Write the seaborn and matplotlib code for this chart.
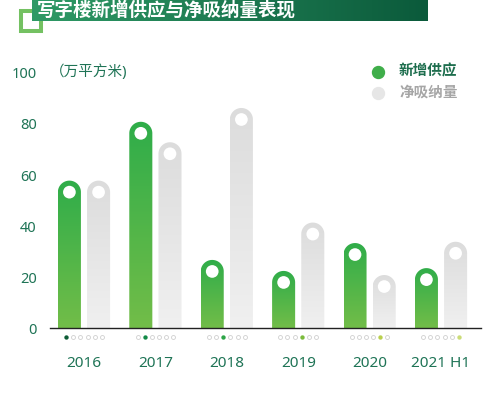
import numpy as np
import pandas as pd
import matplotlib
matplotlib.use('Agg')
import matplotlib.pyplot as plt
import seaborn as sns
from matplotlib.patches import Polygon, Ellipse, Rectangle
from matplotlib.colors import LinearSegmentedColormap

# values (万平方米)
years = ['2016', '2017', '2018', '2019', '2020', '2021 H1']
supply = [57.8, 80.8, 26.8, 22.5, 33.4, 23.6]
absorption = [57.8, 72.8, 86.2, 41.4, 20.9, 33.9]
series = ['新增供应', '净吸纳量']
dot_colors = ['#0e5c36', '#138a48', '#2ea548', '#7bbb3c', '#b9cf4e', '#cbdc78']

teal = '#1f7456'

sns.set_theme(style='white')
plt.rcParams['font.family'] = ['Noto Sans', 'Noto Sans CJK SC', 'DejaVu Sans']

df = pd.DataFrame({
    'year': years * 2,
    'value': supply + absorption,
    'series': [series[0]] * len(years) + [series[1]] * len(years),
})

fig = plt.figure(figsize=(5, 3.95), dpi=100)
ax = fig.add_axes([0.1, 0.1684, 0.862, 0.6476])

sns.barplot(data=df, x='year', y='value', hue='series', hue_order=series,
            width=0.817, gap=0.21, legend=False, ax=ax,
            palette=['#3aae4a', '#e2e2e2'], errorbar=None)

xlim = (-0.476, 5.56)
ylim = (0, 100)
ax.set_xlim(*xlim)
ax.set_ylim(*ylim)

# pixel scale of the data units
px_x = 0.862 * 500 / (xlim[1] - xlim[0])
px_y = 0.6476 * 395 / (ylim[1] - ylim[0])

cmaps = [
    LinearSegmentedColormap.from_list('g', ['#72bd48', '#2fad4a']),
    LinearSegmentedColormap.from_list('w', ['#f0f0f0', '#dcdcdc']),
]
grad = np.linspace(0, 1, 256).reshape(-1, 1)

# replace each flat bar with a gradient bar that has a rounded top
for container, cmap in zip(ax.containers, cmaps):
    for bar in container:
        x0 = bar.get_x()
        w = bar.get_width()
        v = bar.get_height()
        bar.set_visible(False)
        cx = x0 + w / 2
        rx = w / 2
        ry = rx * px_x / px_y
        cy = v - ry
        t = np.linspace(np.pi, 0, 60)
        pts = [(x0, 0)] + [(cx + rx * np.cos(a), cy + ry * np.sin(a)) for a in t] + [(x0 + w, 0)]
        shape = Polygon(pts, closed=True, facecolor='none', edgecolor='none')
        ax.add_patch(shape)
        im = ax.imshow(grad, extent=[x0, x0 + w, 0, v], origin='lower',
                       aspect='auto', cmap=cmap, zorder=2)
        im.set_clip_path(shape)

        # faint diagonal shadow below the hole
        rc = 6.3 / np.sqrt(2)
        d = 60
        band = [
            (cx + rc / px_x, cy + rc / px_y),
            (cx - rc / px_x, cy - rc / px_y),
            (cx + (-rc - d) / px_x, cy + (-rc - d) / px_y),
            (cx + (rc - d) / px_x, cy + (rc - d) / px_y),
        ]
        sh = Polygon(band, closed=True, facecolor='black', edgecolor='none',
                     alpha=0.05, zorder=3)
        ax.add_patch(sh)
        sh.set_clip_path(shape)

        hole = Ellipse((cx, cy), width=12.7 / px_x, height=12.7 / px_y,
                       facecolor='white', edgecolor='none', zorder=4)
        ax.add_patch(hole)

ax.set_xlim(*xlim)
ax.set_ylim(*ylim)

# little progress dots under each year
for i in range(len(years)):
    for j in range(len(years)):
        xd = i + (j - 2.5) * 0.1
        if j == i:
            ax.scatter([xd], [-3.2], s=10, color=dot_colors[i], linewidths=0,
                       clip_on=False, zorder=5)
        else:
            ax.scatter([xd], [-3.2], s=8, facecolor='white', edgecolor='#cfcfcf',
                       linewidths=0.6, clip_on=False, zorder=5)

for s in ['left', 'top', 'right']:
    ax.spines[s].set_visible(False)
ax.spines['bottom'].set_color('#222222')
ax.spines['bottom'].set_linewidth(1.0)
ax.spines['bottom'].set_zorder(6)

ax.set_yticks([0, 20, 40, 60, 80, 100])
ax.tick_params(axis='y', length=0, pad=9.5, labelsize=10.5, labelcolor=teal)
ax.tick_params(axis='x', length=0, pad=20, labelsize=11, labelcolor=teal)
ax.set_xlabel('')
ax.set_ylabel('')
ax.grid(False)

fig.text(50 / 500, 1 - 71.7 / 395, '（万平方米)', fontsize=10.5, color=teal, va='center')

# legend
for name, col, tcol, yy in zip(series, ['#3fae4a', '#e6e6e6'],
                               ['#1e6e4e', '#a6a6a6'], [72, 93]):
    ax.plot([378 / 500], [1 - yy / 395], marker='o', ms=8.6, color=col,
            transform=fig.transFigure, clip_on=False, linestyle='none')
    fig.text(399 / 500, 1 - yy / 395, name, fontsize=10.5, fontweight='bold',
             color=tcol, va='center')

# title banner with square bracket decoration
sq = Rectangle((21 / 500, (395 - 31) / 395), 20 / 500, 20 / 395,
               transform=fig.transFigure, facecolor='none', edgecolor='#74c162',
               linewidth=2.9, zorder=2)
fig.patches.append(sq)

bax = fig.add_axes([32 / 500, (395 - 21) / 395, 395 / 500, 21 / 395], zorder=5)
hgrad = np.linspace(0, 1, 256).reshape(1, -1)
bax.imshow(hgrad, aspect='auto', extent=[0, 1, 0, 1],
           cmap=LinearSegmentedColormap.from_list('b', ['#2f9a66', '#0b5a3b']))
bax.set_xlim(0, 1)
bax.set_ylim(0, 1)
bax.axis('off')
bax.text(0.012, 0.5, '写字楼新增供应与净吸纳量表现', fontsize=13.3, fontweight='bold',
         color='white', va='center', ha='left')

fig.savefig('out.png', dpi=100)
